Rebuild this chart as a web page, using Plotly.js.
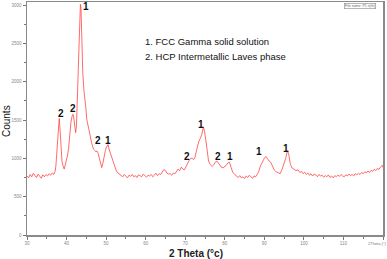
<!DOCTYPE html>
<html>
<head>
<meta charset="utf-8">
<script src="https://cdn.plot.ly/plotly-3.0.1.min.js"></script>
<style>html,body{margin:0;padding:0;background:#fff;}#chart{width:387px;height:259px;}</style>
</head>
<body>
<div id="chart"></div>
<script>
// 2-theta positions (degrees)
const twoTheta = [
  30.0,30.4,30.8,31.2,31.6,32.0,32.4,32.8,33.2,33.6,34.0,34.4,34.8,35.2,35.6,36.0,36.4,36.8,
  37.1,37.3,37.5,37.75,38.0,38.15,38.35,38.6,38.85,39.1,39.4,39.6,39.9,40.2,40.5,40.8,41.1,41.4,41.6,41.75,42.0,42.3,42.5,42.8,43.1,43.35,43.5,43.65,43.8,44.1,44.4,44.6,44.7,44.9,45.1,45.4,45.7,46.0,46.3,46.6,46.8,47.1,47.4,47.7,48.0,48.3,48.6,48.9,49.2,49.5,49.8,50.1,50.5,50.8,51.1,51.4,51.8,52.2,52.6,
  53.0,53.4,53.8,54.2,54.6,55.0,55.4,55.8,56.2,56.6,57.0,57.4,57.8,58.2,58.6,59.0,59.4,59.8,60.2,60.6,61.0,61.4,61.8,62.2,62.6,63.0,63.4,63.8,
  64.2,64.6,65.0,65.4,65.8,66.2,66.6,67.0,67.4,67.8,68.2,68.6,69.0,69.4,69.8,70.2,70.6,71.0,71.4,71.7,72.0,
  72.4,72.8,73.1,73.4,73.8,74.2,74.6,74.9,75.3,75.6,75.9,76.3,76.8,77.2,77.6,78.0,78.4,78.8,79.3,79.8,80.3,80.8,81.2,81.6,82.0,82.5,
  83.0,83.4,83.8,84.2,84.6,85.0,85.4,85.8,86.2,86.6,87.0,87.4,87.8,88.2,
  88.6,89.0,89.5,90.0,90.4,90.8,91.2,91.6,92.0,92.5,93.0,93.5,94.0,94.5,95.0,95.4,95.7,95.9,96.2,96.6,97.0,97.5,98.0,98.5,99.0,99.4,99.8,100.2,
  100.6,101.0,101.4,101.8,102.2,102.6,103.0,103.4,103.8,104.2,104.6,105.0,105.4,105.8,106.2,106.6,107.0,107.4,107.8,108.2,108.6,109.0,109.4,109.8,110.2,110.6,111.0,111.4,111.8,112.2,112.6,113.0,113.4,113.8,114.2,114.6,115.0,115.4,115.8,116.2,116.6,117.0,117.4,117.8,118.2,118.6,119.0,119.4,119.8,120.0
];
// Intensity (counts)
const counts = [
  770,745,790,760,805,775,750,795,770,740,785,760,790,770,800,780,810,790,
  830,900,1050,1280,1470,1520,1380,1120,960,905,860,900,950,1030,1120,1320,1470,1550,1575,1560,1410,1335,1420,1900,2480,2880,3010,2960,2550,2120,1880,1800,1760,1650,1510,1420,1340,1290,1210,1160,1120,1105,1085,1095,1065,1000,930,880,940,1030,1100,1150,1180,1110,1060,1010,940,880,835,
  810,790,775,760,790,770,745,780,765,790,760,775,750,785,770,760,795,775,755,780,770,790,760,780,805,775,800,790,
  830,855,840,805,795,800,780,810,800,830,860,840,885,860,850,890,940,975,1000,1005,985,
  1000,1090,1180,1215,1260,1310,1410,1350,1200,1060,965,920,895,915,950,965,940,905,875,885,905,940,950,880,820,790,
  770,750,775,745,760,735,770,750,780,755,740,770,760,790,
  830,900,955,1000,1025,985,965,950,900,850,825,810,800,860,930,1000,1070,1100,1040,920,875,860,840,850,815,830,800,820,
  790,810,780,800,770,795,785,760,790,770,780,755,775,760,785,750,770,745,775,760,780,765,790,770,760,785,770,795,775,790,770,800,785,805,790,815,800,825,810,835,815,845,830,860,840,870,855,890,910,880
];
// Peak labels
const peakLabelX = [44.8, 38.5, 41.7, 48.05, 50.4, 74.0, 70.4, 78.3, 81.4, 88.7, 95.5];
const peakLabelY = [2975, 1590, 1645, 1235, 1235, 1440, 1025, 1025, 1025, 1085, 1125];
const peakLabelText = ['1', '2', '2', '2', '1', '1', '2', '2', '1', '1', '1'];
const legendLines = ['1. FCC Gamma solid solution', '2. HCP Intermetallic Laves phase'];

const annotations = [];
for (let i = 0; i < peakLabelText.length; i++) {
  annotations.push({
    x: peakLabelX[i], y: peakLabelY[i], xref: 'x', yref: 'y',
    text: '<b>' + peakLabelText[i] + '</b>', showarrow: false,
    font: {family: 'Liberation Sans, Arial, sans-serif', size: 10, color: '#111'},
    xanchor: 'center', yanchor: 'middle'
  });
}
annotations.push({
  x: 0.326, y: 0.831, xref: 'paper', yref: 'paper', xanchor: 'left', yanchor: 'middle',
  text: legendLines[0], showarrow: false,
  font: {family: 'Liberation Sans, Arial, sans-serif', size: 9.5, color: '#111'}
});
annotations.push({
  x: 0.326, y: 0.767, xref: 'paper', yref: 'paper', xanchor: 'left', yanchor: 'middle',
  text: legendLines[1], showarrow: false,
  font: {family: 'Liberation Sans, Arial, sans-serif', size: 9.5, color: '#111'}
});
annotations.push({
  x: -0.059, y: 0.489, xref: 'paper', yref: 'paper', xanchor: 'center', yanchor: 'middle',
  text: 'Counts', textangle: -90, showarrow: false,
  font: {family: 'Liberation Sans, Arial, sans-serif', size: 10, color: '#111'}
});
annotations.push({
  x: 0.475, y: -0.078, xref: 'paper', yref: 'paper', xanchor: 'center', yanchor: 'middle',
  text: '<b>2 Theta (°c)</b>', showarrow: false,
  font: {family: 'Liberation Sans, Arial, sans-serif', size: 10, color: '#222'}
});
annotations.push({
  x: 0.983, y: -0.036, xref: 'paper', yref: 'paper', xanchor: 'center', yanchor: 'middle',
  text: '2Theta (°)', showarrow: false,
  font: {family: 'Liberation Sans, Arial, sans-serif', size: 4, color: '#777'}
});
annotations.push({
  x: 0.934, y: 0.997, xref: 'paper', yref: 'paper', xanchor: 'center', yanchor: 'top',
  text: 'File name: P1 n(th)', showarrow: false, bordercolor: '#888', borderwidth: 0.6, borderpad: 0.5,
  font: {family: 'Liberation Sans, Arial, sans-serif', size: 3.5, color: '#666'}
});

const trace = {
  x: twoTheta, y: counts, type: 'scatter', mode: 'lines',
  line: {color: 'rgba(255,70,70,0.8)', width: 1},
  hoverinfo: 'skip'
};

const layout = {
  width: 387, height: 259,
  margin: {l: 27, r: 4, t: 2, b: 24},
  paper_bgcolor: '#fff', plot_bgcolor: '#fff',
  showlegend: false,
  xaxis: {
    range: [30, 120], tick0: 0, dtick: 10, ticks: 'outside', ticklen: 3, tickwidth: 1, tickcolor: '#777',
    showline: true, linecolor: '#8a8a8a', linewidth: 1.5, mirror: true,
    showgrid: false, zeroline: false,
    tickfont: {family: 'Liberation Sans, Arial, sans-serif', size: 4.5, color: '#888'},
    minor: {dtick: 5, ticks: 'outside', ticklen: 2, tickcolor: '#777', showgrid: false}
  },
  yaxis: {
    range: [0, 3040], tick0: 0, dtick: 500, ticks: 'outside', ticklen: 3, tickwidth: 1, tickcolor: '#777',
    showline: true, linecolor: '#8a8a8a', linewidth: 1.5, mirror: true,
    showgrid: false, zeroline: false,
    tickfont: {family: 'Liberation Sans, Arial, sans-serif', size: 4.5, color: '#888'},
    minor: {dtick: 250, ticks: 'outside', ticklen: 2, tickcolor: '#777', showgrid: false}
  },
  annotations: annotations
};

Plotly.newPlot('chart', [trace], layout, {staticPlot: true, displayModeBar: false});
</script>
</body>
</html>
